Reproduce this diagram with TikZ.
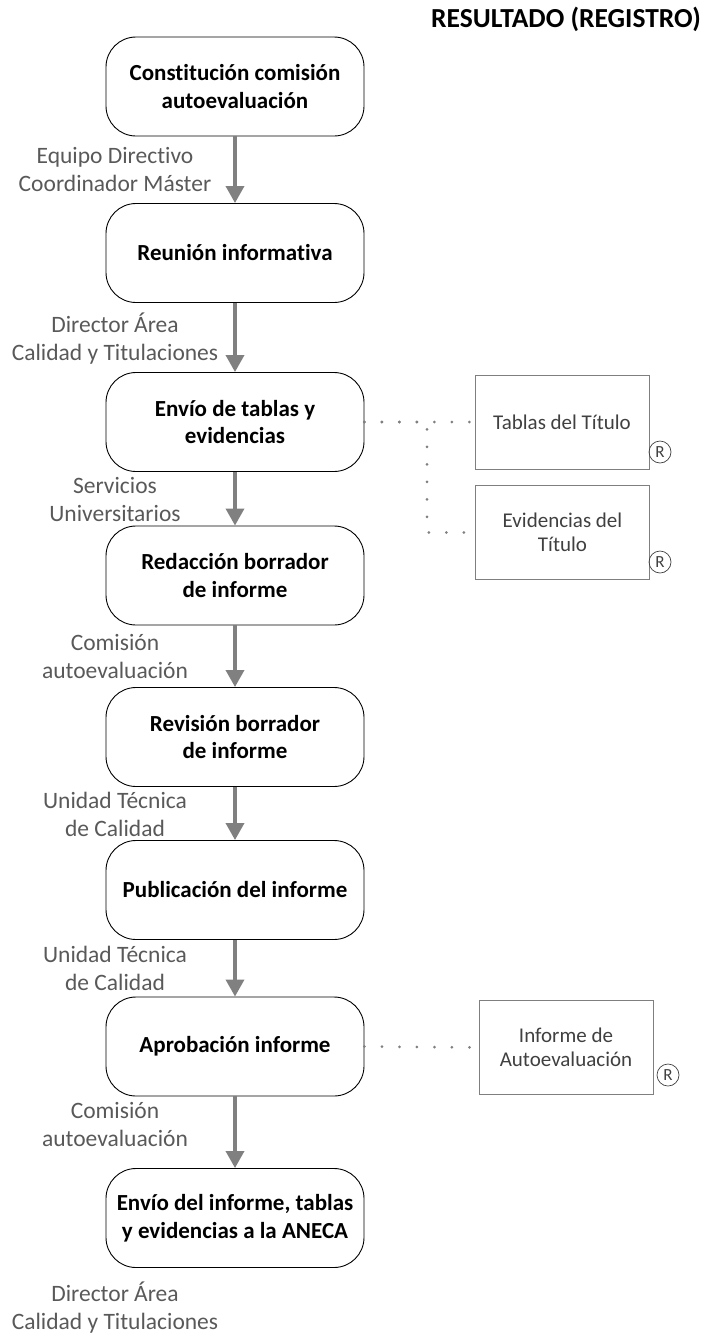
\documentclass[tikz,border=0pt]{standalone}
\usepackage{fontspec}
\setmainfont{Carlito}[Ligatures=NoCommon]
\usetikzlibrary{arrows.meta}
\definecolor{lblgray}{HTML}{595959}
\definecolor{arrgray}{HTML}{808080}
\definecolor{boxgray}{HTML}{7F7F7F}
\definecolor{txtgray}{HTML}{404040}
\tikzset{
  procbox/.style={draw=black, line width=0.9pt, rounded corners=30pt, minimum width=258pt, minimum height=99pt, align=center, font=\bfseries\fontsize{23}{27.5}\selectfont, inner sep=0pt},
  actor/.style={align=center, text=lblgray, font=\fontsize{23.5}{28}\selectfont, inner sep=0pt},
  flow/.style={draw=arrgray, line width=3.5pt, -{Triangle[width=18pt,length=17pt]}},
  regbox/.style={draw=boxgray, line width=0.8pt, minimum width=174pt, minimum height=94pt, align=center, text=txtgray, font=\fontsize{21}{23.5}\selectfont, inner sep=0pt},
  regmark/.style={draw=txtgray, line width=0.7pt, circle, minimum size=22pt, inner sep=0pt, text=txtgray, font=\fontsize{17}{17}\selectfont},
  link/.style={draw=arrgray, line width=3pt, line cap=round, dash pattern=on 0pt off 17.5pt},
}
\begin{document}
\begin{tikzpicture}[x=1pt, y=-1pt]
\useasboundingbox (0,0) rectangle (703,1334);
\node[anchor=east, font=\bfseries\fontsize{27.5}{30}\selectfont, inner sep=0pt] (title) at (701,19) {RESULTADO (REGISTRO)};

\node[procbox] (b1) at (235,86.5) {Constitución comisión\\autoevaluación};
\node[procbox] (b2) at (235,253) {Reunión informativa};
\node[procbox] (b3) at (235,422) {Envío de tablas y\\evidencias};
\node[procbox] (b4) at (235,575.5) {Redacción borrador\\de informe};
\node[procbox] (b5) at (235,737) {Revisión borrador\\de informe};
\node[procbox] (b6) at (235,890) {Publicación del informe};
\node[procbox] (b7) at (235,1046.5) {Aprobación informe};
\node[procbox] (b8) at (235,1218) {Envío del informe, tablas\\y evidencias a la ANECA};

\node[actor] (a1) at (115,169.5) {Equipo Directivo\\Coordinador Máster};
\node[actor] (a2) at (115,339) {Director Área\\Calidad y Titulaciones};
\node[actor] (a3) at (115,499.5) {Servicios\\Universitarios};
\node[actor] (a4) at (115,656) {Comisión\\autoevaluación};
\node[actor] (a5) at (115,814) {Unidad Técnica\\de Calidad};
\node[actor] (a6) at (115,968.5) {Unidad Técnica\\de Calidad};
\node[actor] (a7) at (115,1124) {Comisión\\autoevaluación};
\node[actor] (a8) at (115,1307.5) {Director Área\\Calidad y Titulaciones};

\draw[flow] (b1) -- (b2);
\draw[flow] (b2) -- (b3);
\draw[flow] (b3) -- (b4);
\draw[flow] (b4) -- (b5);
\draw[flow] (b5) -- (b6);
\draw[flow] (b6) -- (b7);
\draw[flow] (b7) -- (b8);

\node[regbox] (tab) at (562,422) {Tablas del Título};
\node[regbox] (evi) at (562.5,532.5) {Evidencias del\\Título};
\node[regbox] (inf) at (566,1047.5) {Informe de\\Autoevaluación};
\node[regmark] (r1) at (660,452) {R};
\node[regmark] (r2) at (660,562) {R};
\node[regmark] (r3) at (668,1075) {R};

\coordinate (turn) at (427,422);
\draw[link] (b3.east) -- (tab.west);
\draw[link] (b3.east) -- (turn) |- (evi.west);
\draw[link] (b7.east) -- (inf.west);
\end{tikzpicture}
\end{document}
